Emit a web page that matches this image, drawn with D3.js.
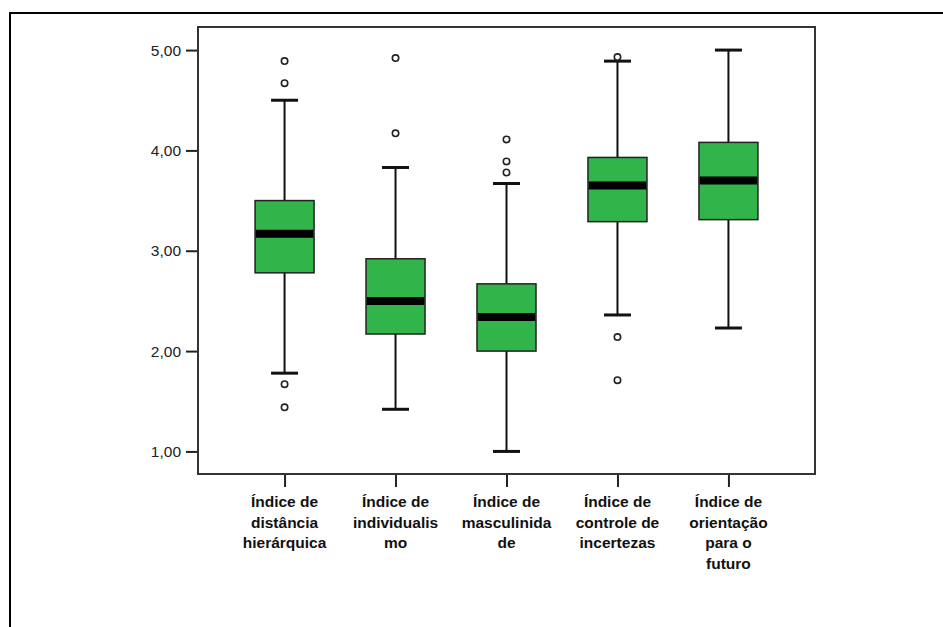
<!DOCTYPE html>
<html>
<head>
<meta charset="utf-8">
<script src="https://cdn.jsdelivr.net/npm/d3@7"></script>
<style>
  body { margin: 0; background: #fff; }
  svg { display: block; }
</style>
</head>
<body>
<div class="chart-container"></div>
<script>
// Chart data
const categories = ["distancia", "individualismo", "masculinidade", "incertezas", "futuro"];
const categoryLabels = [
  ["Índice de", "distância", "hierárquica"],
  ["Índice de", "individualis", "mo"],
  ["Índice de", "masculinida", "de"],
  ["Índice de", "controle de", "incertezas"],
  ["Índice de", "orientação", "para o", "futuro"]
];
const whiskerLow = [1.78, 1.42, 1.00, 2.36, 2.23];
const q1 = [2.78, 2.17, 2.00, 3.29, 3.31];
const median = [3.17, 2.50, 2.34, 3.65, 3.70];
const q3 = [3.50, 2.92, 2.67, 3.93, 4.08];
const whiskerHigh = [4.50, 3.83, 3.67, 4.89, 5.00];
const outliers = [
  [4.89, 4.67, 1.67, 1.44],
  [4.92, 4.17],
  [4.11, 3.89, 3.78],
  [4.93, 2.14, 1.71],
  []
];
const yTicks = [1, 2, 3, 4, 5];

const width = 943;
const height = 627;
const plot = { left: 198, right: 815, top: 27, bottom: 474 };

const svg = d3.select(".chart-container").append("svg")
  .attr("width", width)
  .attr("height", height);

// outer frame (only left and top edges show in the crop)
svg.append("rect")
  .attr("x", 10)
  .attr("y", 13)
  .attr("width", width + 20)
  .attr("height", height + 20)
  .attr("fill", "none")
  .attr("stroke", "#000")
  .attr("stroke-width", 2);

const x = d3.scalePoint()
  .domain(categories)
  .range([plot.left, plot.right])
  .padding(0.78);

const y = d3.scaleLinear()
  .domain([0.775, 5.23])
  .range([plot.bottom, plot.top]);

const boxes = categories.map((c, i) => ({
  key: c,
  low: whiskerLow[i],
  q1: q1[i],
  med: median[i],
  q3: q3[i],
  high: whiskerHigh[i],
  out: outliers[i]
}));

// y axis
const yAxis = svg.append("g")
  .attr("transform", `translate(${plot.left},0)`)
  .call(d3.axisLeft(y)
    .tickValues(yTicks)
    .tickSize(12)
    .tickPadding(5)
    .tickFormat(d => d.toFixed(2).replace(".", ",")));
yAxis.select(".domain").remove();
yAxis.selectAll(".tick line").attr("stroke", "#222").attr("stroke-width", 2);
yAxis.selectAll(".tick text")
  .attr("fill", "#222")
  .style("font-family", "'Liberation Sans', Arial, sans-serif")
  .style("font-size", "15.5px");

// x axis
const xAxis = svg.append("g")
  .attr("transform", `translate(0,${plot.bottom})`)
  .call(d3.axisBottom(x).tickSize(13).tickFormat(""));
xAxis.select(".domain").remove();
xAxis.selectAll(".tick line").attr("stroke", "#222").attr("stroke-width", 2);

const labels = svg.append("g")
  .selectAll("text")
  .data(categories)
  .enter()
  .append("text")
  .attr("x", d => x(d))
  .attr("y", 507)
  .attr("text-anchor", "middle")
  .style("font-family", "'Liberation Sans', Arial, sans-serif")
  .style("font-weight", "bold")
  .style("font-size", "15.5px")
  .attr("fill", "#111");

labels.each(function(d, i) {
  d3.select(this).selectAll("tspan")
    .data(categoryLabels[i])
    .enter()
    .append("tspan")
    .attr("x", x(d))
    .attr("dy", (t, j) => j === 0 ? 0 : 20.5)
    .text(t => t);
});

// boxes
const boxWidth = 59;
const capWidth = 27;

const g = svg.append("g")
  .selectAll(".box")
  .data(boxes)
  .enter()
  .append("g")
  .attr("class", "box")
  .attr("transform", d => `translate(${x(d.key)},0)`);

g.append("line")
  .attr("x1", 0).attr("x2", 0)
  .attr("y1", d => y(d.low))
  .attr("y2", d => y(d.high))
  .attr("stroke", "#111")
  .attr("stroke-width", 2);

g.selectAll(".cap")
  .data(d => [d.low, d.high])
  .enter()
  .append("line")
  .attr("class", "cap")
  .attr("x1", -capWidth / 2).attr("x2", capWidth / 2)
  .attr("y1", v => y(v)).attr("y2", v => y(v))
  .attr("stroke", "#111")
  .attr("stroke-width", 3);

g.append("rect")
  .attr("x", -boxWidth / 2)
  .attr("width", boxWidth)
  .attr("y", d => y(d.q3))
  .attr("height", d => y(d.q1) - y(d.q3))
  .attr("fill", "#31b44a")
  .attr("stroke", "#222")
  .attr("stroke-width", 1.5);

g.append("line")
  .attr("x1", -boxWidth / 2 + 0.75).attr("x2", boxWidth / 2 - 0.75)
  .attr("y1", d => y(d.med)).attr("y2", d => y(d.med))
  .attr("stroke", "#000")
  .attr("stroke-width", 8);

g.selectAll(".outlier")
  .data(d => d.out)
  .enter()
  .append("circle")
  .attr("class", "outlier")
  .attr("cx", 0)
  .attr("cy", v => y(v))
  .attr("r", 3.2)
  .attr("fill", "#fff")
  .attr("stroke", "#222")
  .attr("stroke-width", 1.6);

// plot frame
svg.append("rect")
  .attr("x", plot.left)
  .attr("y", plot.top)
  .attr("width", plot.right - plot.left)
  .attr("height", plot.bottom - plot.top)
  .attr("fill", "none")
  .attr("stroke", "#333")
  .attr("stroke-width", 2);
</script>
</body>
</html>
